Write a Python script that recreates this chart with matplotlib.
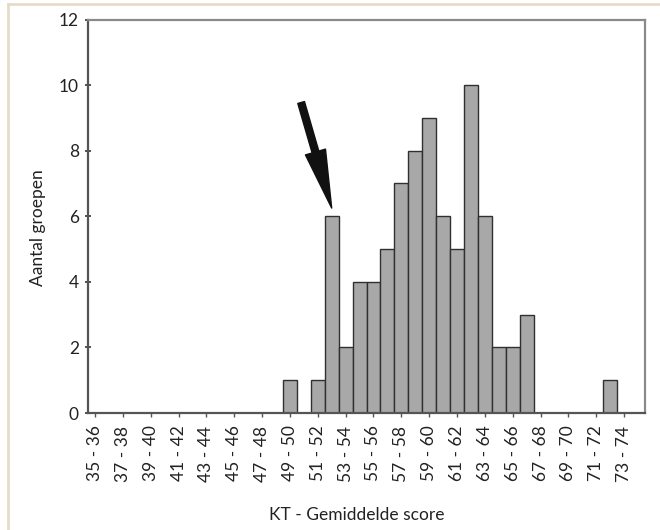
import matplotlib
matplotlib.use("Agg")
import matplotlib.pyplot as plt
from matplotlib.lines import Line2D

plt.rcParams['font.family'] = ['Lato', 'DejaVu Sans']
plt.rcParams['font.size'] = 12.5

# score classes 35-36 ... 74-75, counts per class
lower = list(range(35, 75))
classes = ["%d - %d" % (a, a + 1) for a in lower]
counts = [0, 0, 0, 0, 0, 0, 0, 0, 0, 0, 0, 0, 0, 0,
          1, 0, 1, 6, 2, 4, 4, 5, 7, 8, 9, 6, 5, 10, 6, 2, 2, 3,
          0, 0, 0, 0, 0, 1, 0, 0]
highlight = "52 - 53"   # class marked with the arrow

fig = plt.figure(figsize=(6.6, 5.3), dpi=100)
ax = fig.add_axes([88 / 660, 1 - 413 / 530, (645 - 88) / 660, (413 - 19.5) / 530])

pos = list(range(len(classes)))
ax.bar(pos, counts, width=1.0, color="#a8a8a8", edgecolor="#303030", linewidth=1.0, zorder=2)

ax.set_xlim(-0.5, len(classes) - 0.5)
ax.set_ylim(0, 12)
ax.set_yticks([0, 2, 4, 6, 8, 10, 12])
ax.set_xticks(pos[::2])
ax.set_xticklabels(classes[::2], rotation=90, color="#222222")
ax.tick_params(axis="y", direction="inout", length=5, width=1.2, colors="#333333", labelcolor="#222222", pad=4)
ax.tick_params(axis="x", direction="out", length=3, width=1.0, colors="#555555", labelcolor="#222222", pad=6)

for s in ["left", "bottom"]:
    ax.spines[s].set_color("#555555")
    ax.spines[s].set_linewidth(1.6)
for s in ["top", "right"]:
    ax.spines[s].set_color("#8a8a8a")
    ax.spines[s].set_linewidth(1.6)

ax.set_ylabel("Aantal groepen", color="#222222")
ax.yaxis.set_label_coords(-0.076, 0.47)
ax.set_xlabel("KT - Gemiddelde score", color="#222222")
ax.xaxis.set_label_coords(0.483, -0.238)

# arrow pointing at the highlighted class
hi = classes.index(highlight)
ax.annotate("", xy=(hi, counts[hi] + 0.25), xytext=(-22, 76), textcoords="offset points",
            arrowprops=dict(arrowstyle="simple,head_length=4.2,head_width=1.5,tail_width=0.5",
                            mutation_scale=10, color="#111111", shrinkA=0, shrinkB=0))

# light frame around the figure
fig.add_artist(Line2D([8 / 660, 1], [1 - 4 / 530, 1 - 4 / 530], color="#e6dcc8", lw=2))
fig.add_artist(Line2D([8 / 660, 8 / 660], [0, 1 - 4 / 530], color="#e6dcc8", lw=2))

fig.savefig("out.png", dpi=100)
